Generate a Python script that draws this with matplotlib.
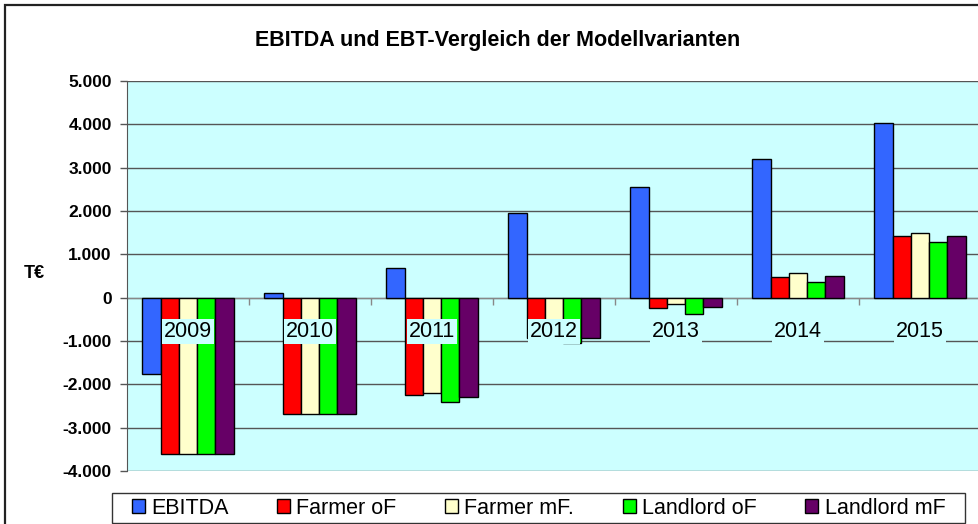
# EBITDA und EBT-Vergleich der Modellvarianten: grouped bars per year (T€).

import numpy as np
import matplotlib.pyplot as plt
from matplotlib.patches import Rectangle

# ---- data (T€) ----
YEARS         = ["2009", "2010", "2011", "2012", "2013", "2014", "2015"]
EBITDA        = [-1750,   100,   690,  1950,  2560,  3200,  4020]
FARMER_OF     = [-3600, -2680, -2240,  -920,  -230,   470,  1430]
FARMER_MF     = [-3600, -2680, -2190, -1000,  -140,   560,  1500]
LANDLORD_OF   = [-3600, -2680, -2400, -1040,  -370,   350,  1290]
LANDLORD_MF   = [-3600, -2680, -2290,  -920,  -210,   500,  1430]
SERIES_NAMES  = ["EBITDA", "Farmer oF", "Farmer mF.", "Landlord oF", "Landlord mF"]
Y_TICKS       = [-4000, -3000, -2000, -1000, 0, 1000, 2000, 3000, 4000, 5000]
Y_TICK_LABELS = ["-4.000", "-3.000", "-2.000", "-1.000", "0",
                 "1.000", "2.000", "3.000", "4.000", "5.000"]

# ---- style ----
COLORS   = ["#3366FF", "#FF0000", "#FFFFCC", "#00FF00", "#660066"]
BG_PLOT  = "#CCFFFF"
GRID_C   = "#555555"
FONT     = "Liberation Sans"
W, H     = 979, 524
BAR_W    = 0.15

plt.rcParams["font.family"] = [FONT, "DejaVu Sans"]

fig = plt.figure(figsize=(W / 100, H / 100), dpi=100)

# outer chart frame (cropped at right/bottom like the source)
fig.patches.append(Rectangle((5 / W, -0.1), 1.2, (H - 5) / H + 0.1, transform=fig.transFigure,
                             fill=False, edgecolor="#222222", lw=1.6, zorder=0))

# plot area in pixel geometry
x0, x1, ytop, ybot = 127, 981, 81, 471
ax = fig.add_axes([x0 / W, (H - ybot) / H, (x1 - x0) / W, (ybot - ytop) / H])
ax.set_facecolor(BG_PLOT)

data = [EBITDA, FARMER_OF, FARMER_MF, LANDLORD_OF, LANDLORD_MF]
x = np.arange(len(YEARS))
for k, (vals, name, col) in enumerate(zip(data, SERIES_NAMES, COLORS)):
    ax.bar(x + (k - 2) * BAR_W, vals, width=BAR_W, color=col, edgecolor="black",
           linewidth=1.0, label=name, zorder=3)

ax.set_xlim(-0.5, len(YEARS) - 0.5)
ax.set_ylim(-4000, 5000)
ax.set_yticks(Y_TICKS)
ax.set_yticklabels(Y_TICK_LABELS, fontsize=12.5, fontweight="bold")
ax.tick_params(axis="y", direction="out", length=5, width=1, color=GRID_C, pad=6)
ax.yaxis.grid(True, color=GRID_C, lw=1.0)
ax.set_axisbelow(True)
ax.xaxis.set_zorder(5)   # year labels sit on top of the bars

# category axis crosses at 0
ax.spines["bottom"].set_position(("data", 0))
ax.spines["bottom"].set_color("#888888")
ax.spines["bottom"].set_zorder(2)
ax.spines["top"].set_visible(False)
ax.spines["right"].set_visible(False)
ax.spines["left"].set_color(GRID_C)
ax.set_xticks(x)
ax.set_xticklabels(YEARS, fontsize=15.5)
ax.tick_params(axis="x", length=0, pad=17)
for lab in ax.get_xticklabels():
    lab.set_bbox(dict(facecolor=BG_PLOT, edgecolor="none", pad=1.5))
ax.set_xticks(x[:-1] + 0.5, minor=True)
ax.tick_params(axis="x", which="minor", direction="out", length=5, width=1, color="#888888")

# y label
fig.text(34 / W, 1 - 274 / H, "T€", fontsize=13, fontweight="bold", ha="center", va="center")

# title
fig.text(498 / W, 1 - 46 / H, "EBITDA und EBT-Vergleich der Modellvarianten",
         fontsize=15.5, fontweight="bold", ha="center", va="baseline")

# legend: entries centred, box drawn separately to match the source frame
lx0, lx1, ly0, ly1 = 112, 965, 493, 523
leg = fig.legend(loc="center", ncol=5, bbox_to_anchor=((lx0 + lx1) / 2 / W, 1 - (ly0 + ly1) / 2 / H),
                 fontsize=15.5, frameon=False, handlelength=0.6, handleheight=0.6,
                 handletextpad=0.3, columnspacing=2.25, borderpad=0, borderaxespad=0)
fig.patches.append(Rectangle((lx0 / W, 1 - ly1 / H), (lx1 - lx0) / W, (ly1 - ly0) / H,
                             transform=fig.transFigure, fill=False, edgecolor="#333333", lw=1.0))

fig.savefig("out.png", dpi=100)
